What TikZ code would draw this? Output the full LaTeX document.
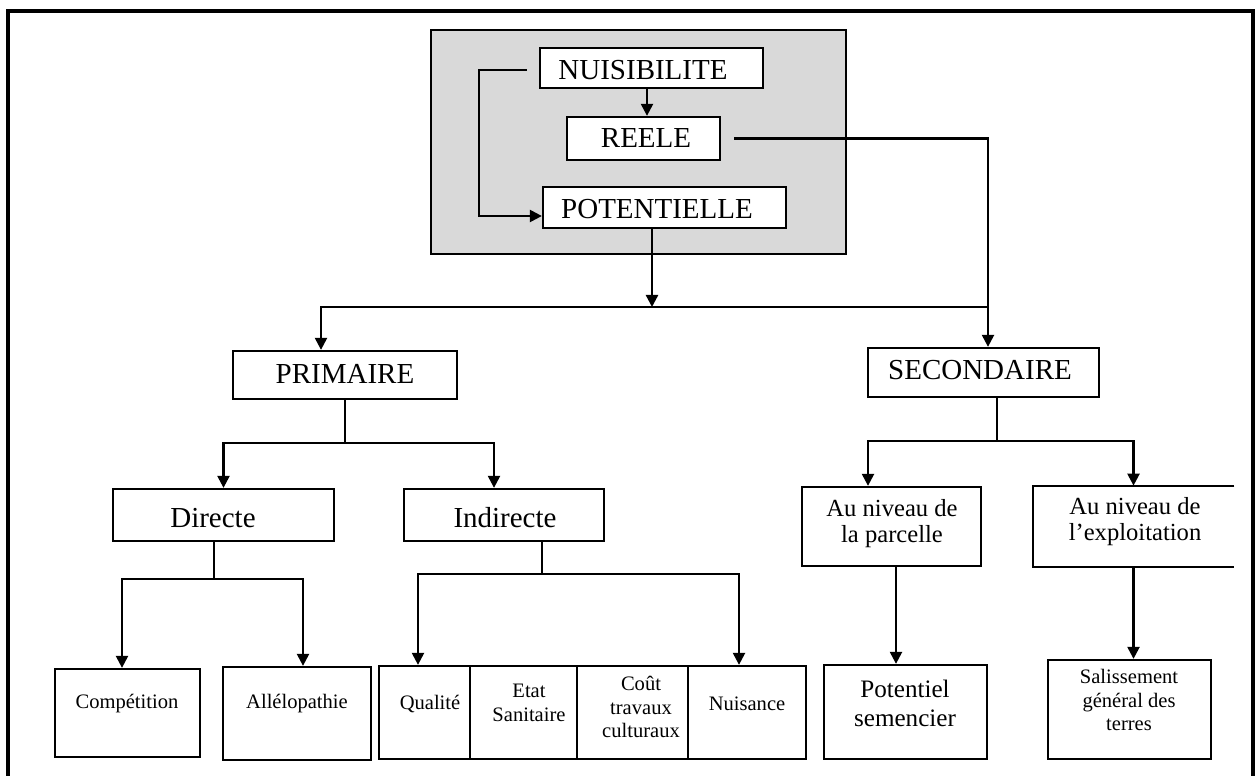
\documentclass[tikz,border=0pt]{standalone}
\usepackage{fontspec}
\setmainfont{Liberation Serif}
\usetikzlibrary{arrows.meta,fit}

\newcommand{\fsBig}{\fontsize{16.5}{19}\selectfont}
\newcommand{\fsMid}{\fontsize{14}{14.8}\selectfont}
\newcommand{\fsSmall}{\fontsize{11.7}{13.3}\selectfont}

\tikzset{
  wire/.style={line width=1.3pt},
  arr/.style={wire, -{Triangle[width=0.24cm,length=0.24cm]}},
  box/.style={draw, line width=1.3pt, fill=white, inner sep=0pt},
  txt/.style={inner sep=0pt, align=center},
}

\begin{document}
\begin{tikzpicture}[x=0.02cm, y=-0.02cm]
            \useasboundingbox (0,0) rectangle (1257,776);
            % Frame and grey block:
                \draw[line width=1.8pt] (8,776) -- (8,11) -- (1253,11) -- (1253,776);
                \node[draw, line width=1.3pt, fill=gray!30, inner sep=0pt, fit={(431,30) (846,254)}] (grey) {};
            % Boxes:
                \node[box, fit={(540,48) (763,88)}] (nuis) {};
                \node[box, fit={(567,117) (720,160)}] (reele) {};
                \node[box, fit={(543,187) (786,228)}] (pot) {};
                \node[box, fit={(233,351) (457,399)}] (prim) {};
                \node[box, fit={(868,348) (1099,397)}] (sec) {};
                \node[box, fit={(113,489) (334,541)}] (dir) {};
                \node[box, fit={(404,489) (604,541)}] (ind) {};
                \node[box, fit={(802,487) (981,566)}] (parc) {};
                \node[inner sep=0pt, fit={(1033,486) (1234,567)}] (expl) {};
                \draw[wire] (expl.north east) -- (expl.north west) -- (expl.south west) -- (expl.south east);
                \node[box, fit={(55,669) (200,757)}] (comp) {};
                \node[box, fit={(223,667) (371,760)}] (allel) {};
                \node[box, fit={(379,666) (470,759)}] (qual) {};
                \node[box, fit={(470,666) (577,759)}] (etat) {};
                \node[box, fit={(577,666) (688,759)}] (cout) {};
                \node[box, fit={(688,666) (806,759)}] (nuisa) {};
                \node[box, fit={(824,665) (987,759)}] (potsem) {};
                \node[box, fit={(1048,660) (1211,759)}] (sal) {};
            % Texts:
                \node[txt, font=\fsBig] (tNuis) at (643,70) {NUISIBILITE};
                \node[txt, font=\fsBig] (tReele) at (646,138) {REELE};
                \node[txt, font=\fsBig] (tPot) at (657,209) {POTENTIELLE};
                \node[txt, font=\fsBig] (tPrim) at (345,374) {PRIMAIRE};
                \node[txt, font=\fsBig] (tSec) at (980,370) {SECONDAIRE};
                \node[txt, font=\fsBig] (tDir) at (213,518) {Directe};
                \node[txt, font=\fsBig] (tInd) at (505,518) {Indirecte};
                \node[txt, font=\fsMid] (tParc) at (892,524) {Au niveau de\\la parcelle};
                \node[txt, font=\fsMid] (tExpl) at (1135,522) {Au niveau de\\l’exploitation};
                \node[txt, font=\fsSmall] (tComp) at (127,704) {Compétition};
                \node[txt, font=\fsSmall] (tAllel) at (297,704) {Allélopathie};
                \node[txt, font=\fsSmall] (tQual) at (430,704) {Qualité};
                \node[txt, font=\fsSmall] (tEtat) at (529,703) {Etat\\Sanitaire};
                \node[txt, font=\fsSmall] (tCout) at (641,707) {Coût\\travaux\\culturaux};
                \node[txt, font=\fsSmall] (tNuisa) at (747,704) {Nuisance};
                \node[txt, font=\fontsize{14.3}{16.4}\selectfont] (tPotsem) at (905,703) {Potentiel\\semencier};
                \node[txt, font=\fsSmall] (tSal) at (1129,700) {Salissement\\général des\\terres};
            % Junctions:
                \coordinate (bus) at (652,307);
                \coordinate (kSec) at ([xshift=0.09cm]sec.north);
                \coordinate (b2) at (345,443);
                \coordinate (b3) at (997,441);
                \coordinate (b4) at (214,579);
                \coordinate (b5) at (542,574);
                \coordinate (k6) at ([xshift=0.09cm]parc.south);
            % Connectors:
                \draw[arr] ([xshift=-0.09cm]nuis.south) -- ([xshift=-0.09cm]reele.north -| nuis.south);
                \draw[arr] ([xshift=-0.24cm,yshift=-0.04cm]nuis.west) -- ++(-0.96cm,0) |- ([yshift=-0.17cm]pot.west);
                \draw[arr] ([xshift=0.26cm]reele.east) -| (kSec);
                \draw[arr] (bus |- pot.south) -- (bus);
                \draw[wire] (bus) -- (bus -| kSec);
                \draw[arr] (bus) -| ([xshift=-0.48cm]prim.north);
                \draw[wire] (prim.south) -- (b2);
                \draw[arr] (b2) -| (dir.north);
                \draw[arr] (b2) -| ([xshift=-0.2cm]ind.north);
                \draw[wire] (sec.south -| b3) -- (b3);
                \draw[arr] (b3) -| ([xshift=-0.47cm]parc.north);
                \draw[arr] (b3) -| (expl.north);
                \draw[wire] (dir.south -| b4) -- (b4);
                \draw[arr] (b4) -| ([xshift=-0.11cm]comp.north);
                \draw[arr] (b4) -| ([xshift=0.12cm]allel.north);
                \draw[wire] (ind.south -| b5) -- (b5);
                \draw[arr] (b5) -| ([xshift=-0.13cm]qual.north);
                \draw[arr] (b5) -| ([xshift=-0.16cm]nuisa.north);
                \draw[arr] (k6) -- (k6 |- potsem.north);
                \draw[arr] (expl.south) -- (expl.south |- sal.north);
            \end{tikzpicture}
\end{document}
